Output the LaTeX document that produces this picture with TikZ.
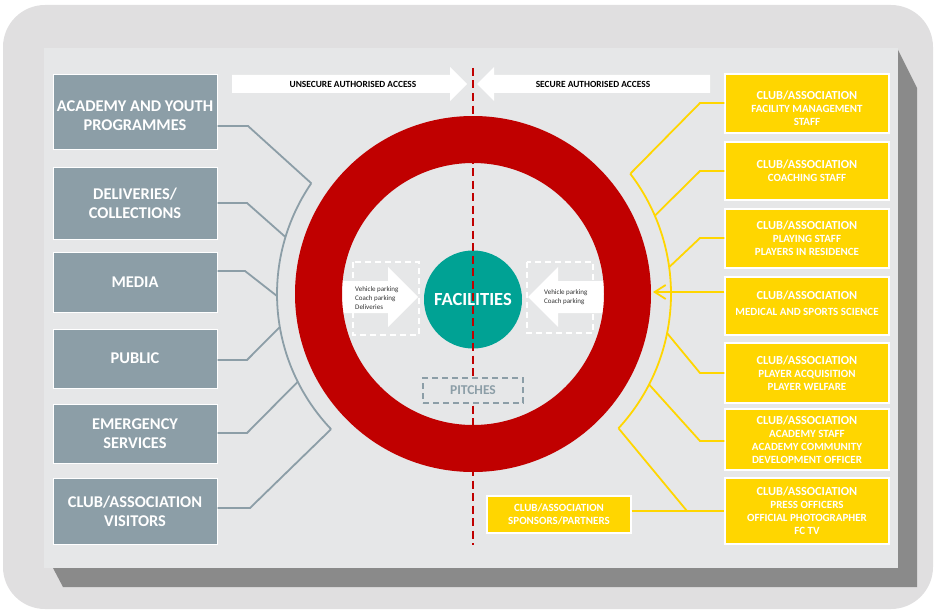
\documentclass[tikz,border=0pt]{standalone}
\usepackage{fontspec}
\setmainfont{Carlito}
\usetikzlibrary{arrows.meta,calc}
\definecolor{outerbg}{HTML}{E0DFE0}
\definecolor{panelbg}{HTML}{E6E7E8}
\definecolor{shadowc}{HTML}{8A8A8A}
\definecolor{slate}{HTML}{8C9EA7}
\definecolor{gold}{HTML}{FFD600}
\definecolor{ringred}{HTML}{C00000}
\definecolor{facteal}{HTML}{00A294}
\definecolor{smalltxt}{HTML}{333333}
\newcommand{\clubline}{{\fontsize{12.3}{14}\selectfont CLUB/ASSOCIATION}\\[0pt]}
\begin{document}
\begin{tikzpicture}[x=1pt,y=-1pt,
  gbox/.style={draw=white, line width=1pt, fill=slate, text=white,
    font=\fontsize{16.4}{19}\selectfont\bfseries, align=center,
    minimum width=164pt, inner sep=0pt},
  gtext/.style={text=white, font=\fontsize{16.4}{19}\selectfont\bfseries, align=center, inner sep=0pt},
  ybox/.style={draw=white, line width=1.2pt, fill=gold, text=white,
    align=center, minimum width=164pt, inner sep=0pt,
    font=\fontsize{11}{13}\selectfont\bfseries},
  ytext/.style={text=white, align=center, inner sep=0pt, font=\fontsize{11}{13}\selectfont\bfseries},
  glink/.style={draw=slate, line width=1.8pt},
  ylink/.style={draw=gold, line width=1.8pt},
  acctext/.style={text=black, font=\fontsize{9.4}{10}\selectfont\bfseries, inner sep=0pt},
  parktext/.style={text=smalltxt, font=\fontsize{7}{8.7}\selectfont, align=left, inner sep=0pt},
  whitedash/.style={draw=white, line width=1.3pt, dash pattern=on 6pt off 4pt},
]
\useasboundingbox (0,0) rectangle (935,610);
% frame, shadow, panel
\fill[outerbg, rounded corners=42pt] (3,5) rectangle (933,609);
\fill[shadowc] (898,50) -- (917,88) -- (917,587) -- (63,587) -- (53,568) -- cycle;
\fill[panelbg] (44,48) rectangle (898,568);

% access arrows
\fill[white] (232,75) -- (450,75) -- (450,67) -- (467,84) -- (450,101) -- (450,93) -- (232,93) -- cycle;
\fill[white] (710,75) -- (494,75) -- (494,67) -- (477,84) -- (494,101) -- (494,93) -- (710,93) -- cycle;
\node[acctext] (ua) at (353,84) {UNSECURE AUTHORISED ACCESS};
\node[acctext] (sa) at (593,84) {SECURE AUTHORISED ACCESS};

% inner parking arrows
\draw[whitedash] (353,262) rectangle (419,335);
\draw[whitedash] (527,262) rectangle (593,333);
\fill[white] (330,281) -- (388,281) -- (388,267) -- (418,297) -- (388,327) -- (388,313) -- (330,313) -- cycle;
\fill[white] (616,281) -- (558,281) -- (558,267) -- (528,297) -- (558,327) -- (558,313) -- (616,313) -- cycle;
\node[parktext, anchor=west] (pl) at (355,298) {Vehicle parking\\Coach parking\\Deliveries};
\node[parktext, anchor=west] (pr) at (544,297) {Vehicle parking\\Coach parking};

% ring
\fill[ringred, even odd rule] (473,294) circle[radius=178pt] (473,294) circle[radius=131pt];

% facilities
\node[circle, fill=facteal, minimum size=98pt, inner sep=0pt] (fac) at (473,299.5) {};
\draw[ringred, line width=1.8pt, dash pattern=on 8pt off 4.5pt] (473,68) coordinate (dtop) -- (473,545) coordinate (dbot);
\node[text=white, font=\fontsize{18.5}{20}\selectfont\bfseries] (factext) at (fac) {FACILITIES};
\node[draw=slate, fill=panelbg, line width=1.4pt, dash pattern=on 6pt off 4pt,
  minimum width=100pt, minimum height=25pt, inner sep=0pt, text=slate,
  font=\fontsize{13.5}{15}\selectfont\bfseries] (pit) at (473,390.5) {PITCHES};

% left boxes
\node[gbox, minimum height=74pt] (a1) at (135,112) {};
\node[gtext] (a1t) at (135,116) {ACADEMY AND YOUTH\\PROGRAMMES};
\node[gbox, minimum height=72pt] (a2) at (135,203) {DELIVERIES/\\COLLECTIONS};
\node[gbox, minimum height=60pt] (a3) at (135,282) {MEDIA};
\node[gbox, minimum height=59pt] (a4) at (135,358.5) {PUBLIC};
\node[gbox, minimum height=59pt] (a5) at (135,433.5) {EMERGENCY\\SERVICES};
\node[gbox, minimum height=66pt] (a6) at (135,511) {CLUB/ASSOCIATION\\VISITORS};

% right boxes
\node[ybox, minimum height=59pt] (y1) at (807,103.5) {};
\node[ytext] (y1t) at (807,108) {\clubline FACILITY MANAGEMENT\\STAFF};
\node[ybox, minimum height=58pt] (y2) at (807,171) {\clubline COACHING STAFF};
\node[ybox, minimum height=59pt] (y3) at (807,238.5) {\clubline PLAYING STAFF\\PLAYERS IN RESIDENCE};
\node[ybox, minimum height=58pt] (y4) at (807,306) {};
\node[ytext] (y4t) at (807,303.5) {{\fontsize{12.3}{14}\selectfont CLUB/ASSOCIATION}\\[3pt] MEDICAL AND SPORTS SCIENCE};
\node[ybox, minimum height=60pt] (y5) at (807,373) {\clubline PLAYER ACQUISITION\\PLAYER WELFARE};
\node[ybox, minimum height=61pt] (y6) at (807,439.5) {\clubline ACADEMY STAFF\\ACADEMY COMMUNITY\\DEVELOPMENT OFFICER};
\node[ybox, minimum height=66pt] (y7) at (807,511) {\clubline PRESS OFFICERS\\OFFICIAL PHOTOGRAPHER\\FC TV};
\node[ybox, minimum width=144pt, minimum height=37pt] (sp) at (559,514.5) {CLUB/ASSOCIATION\\SPONSORS/PARTNERS};

% gray arc and links
\foreach \n/\a in {g1/214.4, g2/196.9, g3/179.4, g4/170.3, g5/153.4, g6/136.4}
  \coordinate (\n) at ({473+196*cos(\a)},{294+196*sin(\a)});
\draw[glink] plot[domain=214.4:136.4, samples=60] ({473+196*cos(\x)},{294+196*sin(\x)});
\draw[glink] (a1.east |- 0,126) -- (248,126) -- (g1);
\draw[glink] (a2.east |- 0,203) -- (247,203) -- (g2);
\draw[glink] (a3.east |- 0,271) -- (245,271) -- (g3);
\draw[glink] (a4.east |- 0,360) -- (247,360) -- (g4);
\draw[glink] (a5.east |- 0,433) -- (247,433) -- (g5);
\draw[glink] (a6.east |- 0,508) -- (250,508) -- (g6);

% yellow arc and links
\foreach \n/\a in {v1/-37.4, v2/-23.3, v3/-7.8, v5/11.4, v6/27.2, v7/42.7}
  \coordinate (\n) at ({473+198*cos(\a)},{294+198*sin(\a)});
\draw[ylink] plot[domain=-37.4:42.7, samples=60] ({473+198*cos(\x)},{294+198*sin(\x)});
\draw[ylink] (y1.west |- 0,103) -- (700,103) -- (v1);
\draw[ylink] (y2.west |- 0,171) -- (700,171) -- (v2);
\draw[ylink] (y3.west |- 0,238) -- (700,238) -- (v3);
\coordinate (ringedge) at (653,292);
\draw[ylink, -{Straight Barb[length=11pt,width=14pt]}] (y4.west |- 0,292) -- (ringedge);
\draw[ylink] (y5.west |- 0,373) -- (700,373) -- (v5);
\draw[ylink] (y6.west |- 0,441) -- (700,441) -- (v6);
\coordinate (yj) at (687,511);
\draw[ylink] (sp.east |- 0,511) -- (y7.west |- 0,511);
\draw[ylink] (yj) -- (v7);
\end{tikzpicture}
\end{document}
